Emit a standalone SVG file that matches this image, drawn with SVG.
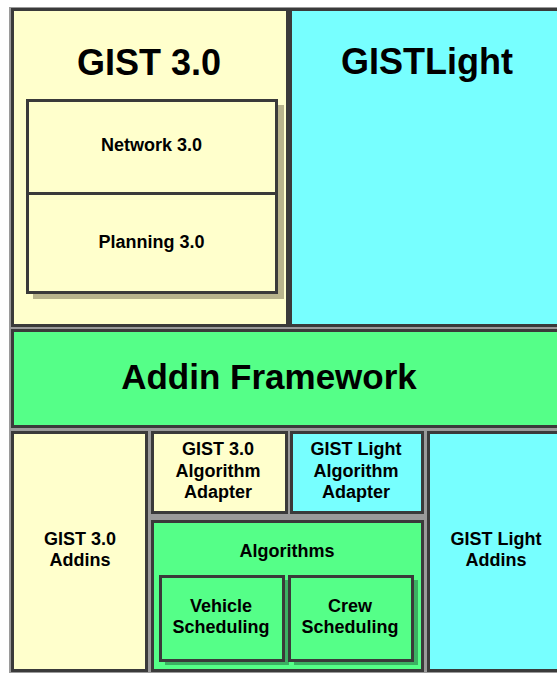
<svg xmlns="http://www.w3.org/2000/svg" width="557" height="673" viewBox="0 0 557 673">
<style>
.box{stroke:#3a3a3a;stroke-width:3}
.y{fill:#ffffcc}
.c{fill:#77ffff}
.g{fill:#55ff88}
.sy{fill:#b8b48c}
.sg{fill:#3bb062}
text{font-family:"Liberation Sans",Arial,sans-serif;font-weight:bold;fill:#000;text-anchor:middle}
.big{font-size:36px}
.af{font-size:35px}
.sm{font-size:18px}
</style>
<rect x="9" y="7" width="548" height="666" fill="#9a9a9a"/>
<g id="gist30">
<rect class="box y" x="12.5" y="9.5" width="275" height="316"/>
<text class="big" x="149" y="75">GIST 3.0</text>
</g>
<g id="gistlight">
<rect class="box c" x="290.5" y="9.5" width="280" height="316"/>
<text class="big" x="427" y="74">GISTLight</text>
</g>
<g id="network30">
<rect class="sy" x="33" y="105" width="251" height="194"/>
<rect class="box y" x="27.5" y="100.5" width="249" height="93"/>
<text class="sm" x="151.5" y="151">Network 3.0</text>
</g>
<g id="planning30">
<rect class="box y" x="27.5" y="193.5" width="249" height="99"/>
<text class="sm" x="151.5" y="248">Planning 3.0</text>
</g>
<g id="addin-framework">
<rect class="box g" x="12.5" y="330.5" width="560" height="96"/>
<text class="af" x="269" y="389">Addin Framework</text>
</g>
<g id="gist30-addins">
<rect class="box y" x="12.5" y="432.5" width="134" height="238"/>
<text class="sm" x="80" y="545">GIST 3.0</text>
<text class="sm" x="80" y="566">Addins</text>
</g>
<g id="gist30-adapter">
<rect class="box y" x="152.5" y="432.5" width="134" height="80"/>
<text class="sm" x="218" y="455">GIST 3.0</text>
<text class="sm" x="218" y="477">Algorithm</text>
<text class="sm" x="218" y="498">Adapter</text>
</g>
<g id="gistlight-adapter">
<rect class="box c" x="291.5" y="432.5" width="131" height="80"/>
<text class="sm" x="356" y="455">GIST Light</text>
<text class="sm" x="356" y="477">Algorithm</text>
<text class="sm" x="356" y="498">Adapter</text>
</g>
<g id="algorithms">
<rect class="box g" x="152.5" y="521.5" width="270" height="149"/>
<text class="sm" x="287" y="557">Algorithms</text>
</g>
<g id="vehicle-scheduling">
<rect class="sg" x="165" y="580" width="124" height="85"/>
<rect class="box g" x="160.5" y="576.5" width="123" height="84"/>
<text class="sm" x="221" y="612">Vehicle</text>
<text class="sm" x="221" y="633">Scheduling</text>
</g>
<g id="crew-scheduling">
<rect class="sg" x="294" y="580" width="124" height="85"/>
<rect class="box g" x="289.5" y="576.5" width="123" height="84"/>
<text class="sm" x="350" y="612">Crew</text>
<text class="sm" x="350" y="633">Scheduling</text>
</g>
<g id="gistlight-addins">
<rect class="box c" x="428.5" y="432.5" width="140" height="238"/>
<text class="sm" x="496" y="545">GIST Light</text>
<text class="sm" x="496" y="566">Addins</text>
</g>
<g id="connectors"></g>
</svg>
